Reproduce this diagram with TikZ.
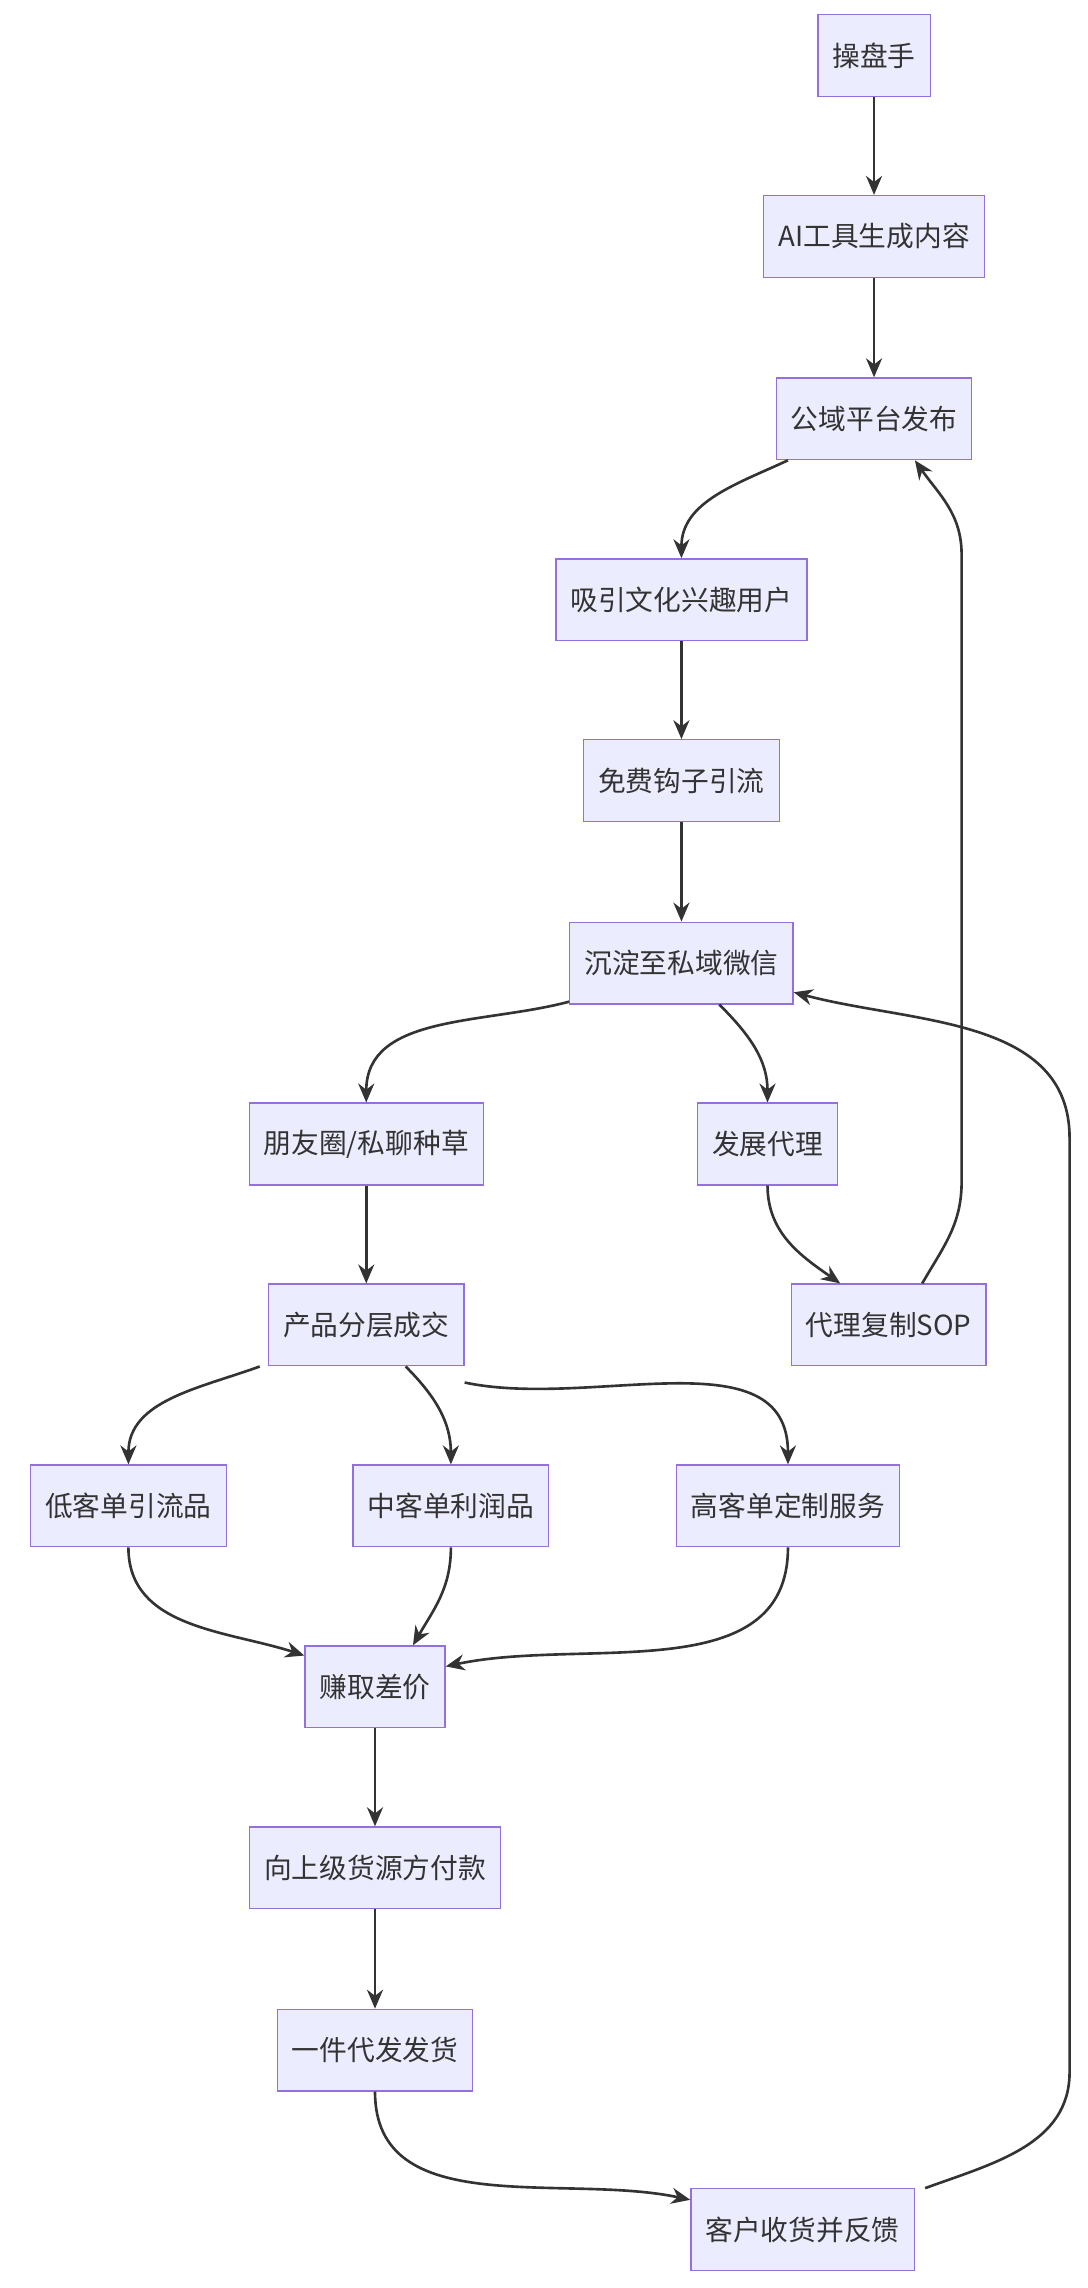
\documentclass[tikz,border=0pt]{standalone}
\usepackage{fontspec}
\setmainfont{Noto Sans CJK SC}
\usetikzlibrary{arrows.meta,calc}
\definecolor{boxfill}{HTML}{ECECFF}
\definecolor{boxline}{HTML}{9370DB}
\definecolor{edge}{HTML}{333333}
\begin{document}
\begin{tikzpicture}[x=1pt,y=-1pt,
    box/.style={draw=boxline,fill=boxfill,line width=0.9pt,minimum height=56pt,inner xsep=10pt,
      font=\fontsize{19}{23}\selectfont,text=edge},
    flow/.style={draw=edge,line width=1.8pt,-{Stealth[length=13pt,width=11pt]}}]
    \useasboundingbox (0,0) rectangle (745,1568);

    % nodes
    \node[box] (cps) at (599,38) {操盘手};
    \node[box] (ai) at (599,162) {AI工具生成内容};
    \node[box] (pub) at (599,287) {公域平台发布};
    \node[box] (attract) at (467,411) {吸引文化兴趣用户};
    \node[box] (hook) at (467,535) {免费钩子引流};
    \node[box] (wechat) at (467,660) {沉淀至私域微信};
    \node[box] (moments) at (251,784) {朋友圈/私聊种草};
    \node[box] (agent) at (526,784) {发展代理};
    \node[box] (deal) at (251,908) {产品分层成交};
    \node[box] (sop) at (609,908) {代理复制SOP};
    \node[box] (low) at (88,1032) {低客单引流品};
    \node[box] (mid) at (309,1032) {中客单利润品};
    \node[box] (high) at (540,1032) {高客单定制服务};
    \node[box] (earn) at (257,1156) {赚取差价};
    \node[box] (pay) at (257,1280) {向上级货源方付款};
    \node[box] (ship) at (257,1405) {一件代发发货};
    \node[box] (cust) at (550,1528) {客户收货并反馈};

    % main flow
    \draw[flow] (cps) -- (ai);
    \draw[flow] (ai) -- (pub);
    \draw[flow] ($(pub.south)+(-59,0)$) to[out=-155,in=90] (attract.north);
    \draw[flow] (attract) -- (hook);
    \draw[flow] (hook) -- (wechat);
    \draw[flow] ($(wechat.south west)+(0,-2)$) to[out=-165,in=90] (moments.north);
    \draw[flow] ($(wechat.south)+(26,0)$) to[out=-45,in=90] (agent.north);
    \draw[flow] (moments) -- (deal);
    \draw[flow] (agent.south) to[out=-90,in=145] ($(sop.north west)+(34,0)$);
    \draw[flow] ($(sop.north)+(23,0)$) to[out=60,in=-90] (659,810) -- (659,380)
        to[out=90,in=-55] ($(pub.south)+(28,0)$);

    % product tiers
    \draw[flow] ($(deal.south)+(-73,0)$) to[out=-160,in=90] (low.north);
    \draw[flow] ($(deal.south)+(27,0)$) to[out=-45,in=90] (mid.north);
    \draw[flow] ($(deal.south east)+(0,11)$) to[out=-12,in=90] (high.north);
    \draw[flow] (low.south) to[out=-90,in=162] ($(earn.north west)+(0,7)$);
    \draw[flow] (mid.south) to[out=-90,in=60] ($(earn.north)+(26,0)$);
    \draw[flow] (high.south) to[out=-90,in=12] ($(earn.east)+(0,-14)$);
    \draw[flow] (earn) -- (pay);
    \draw[flow] (pay) -- (ship);
    \draw[flow] (ship.south) to[out=-90,in=168] ($(cust.north west)+(0,8)$);

    % feedback loop
    \draw[flow] ($(cust.north)+(84,0)$) to[out=20,in=-90] (733,1420) -- (733,780)
        to[out=90,in=-15] ($(wechat.east)+(0,20)$);
\end{tikzpicture}
\end{document}
